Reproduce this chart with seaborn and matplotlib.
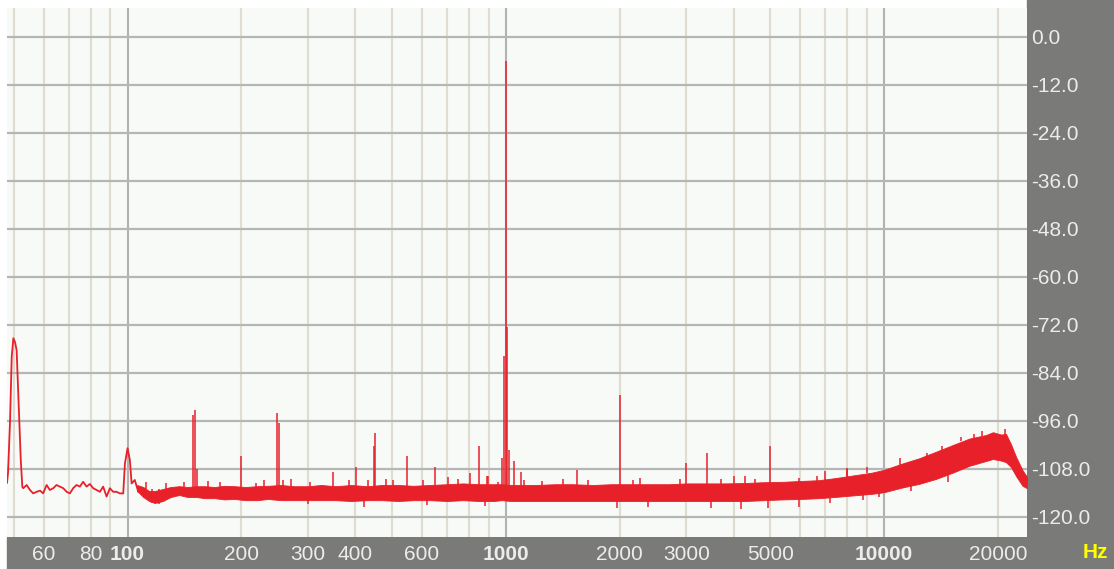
import numpy as np
import matplotlib
matplotlib.use("Agg")
import matplotlib.pyplot as plt
import seaborn as sns
from matplotlib.patches import Rectangle

# Spectrum (Hz, dB)

# thin trace at the low end (mains hum at 50 Hz, 100 Hz)
low_freq = [48.0, 48.3, 48.9, 49.4, 49.9, 50.4, 50.9, 51.4, 52.2, 52.7,
            53.0, 54.1, 55.2, 56.3, 57.5, 58.7, 59.8, 61.1, 62.3, 63.6,
            64.9, 66.2, 67.6, 69.0, 70.4, 71.8, 73.3, 74.8, 76.3, 77.9,
            79.5, 81.1, 82.8, 84.5, 86.2, 88.0, 89.8, 91.6, 93.5, 95.4,
            97.4, 98.4, 100.0, 101.4, 102.5, 104.5, 106.7]
low_db = [-111.5, -109, -96, -80, -75.3, -76.3, -78.3, -89, -105.8, -112.5,
          -112.8, -112, -113.25, -114.1, -113.7, -113.4, -114.1, -112, -113.25, -112.8,
          -112, -112.4, -112.8, -113.7, -114.1, -112.8, -112, -112.4, -111.2, -112.4,
          -111.75, -112.8, -113.25, -113.7, -112.4, -114.9, -112.8, -113.7, -113.7, -114.1,
          -114.1, -106.6, -102.8, -105.75, -111.6, -110.75, -113.7]

# dense noise floor: upper and lower edge of the red band
band_freq = [106, 110, 114, 118, 124, 130, 137, 144, 152, 160, 170, 180, 192, 205, 220, 235,
             255, 275, 300, 325, 355, 390, 430, 470, 520, 570, 630, 700, 770, 850, 930, 975,
             1030, 1100, 1200, 1350, 1500, 1700, 1900, 2100, 2400, 2700, 3000, 3400, 3800,
             4300, 4800, 5400, 6000, 6700,
             7400, 8300, 9300, 10000, 11200, 12400, 13700, 15200, 16800, 18600, 19400,
             20400, 21000, 21650, 22340, 23230, 23870]
band_hi = [-112, -112.5, -113.5, -113.5, -113, -112.5, -112.3, -112.5, -112.3, -112.3, -112.5, -112.2,
           -112.3, -112.5, -112.3, -112.2, -112, -112.3, -112.3, -112, -112.3, -112, -112.3,
           -112, -112, -112.2, -112, -111.8, -111.6, -111.8, -111.8, -111.8,
           -112, -112, -112, -111.8, -111.8, -112, -111.8, -111.8, -111.8, -111.8, -111.6,
           -111.6, -111.6, -111.5, -111.3, -111.2, -111, -110.8,
           -110.3, -109.6, -108.9, -108.2, -106.6, -105.3, -103.7, -102, -100.4, -99.5,
           -98.8, -99.4, -99.2, -101.8, -105, -108.3, -110]
band_lo = [-113.5, -115, -116, -116.5, -116, -115, -114.5, -115, -115, -115.3, -115.3, -115.6,
           -115.5, -115.8, -115.8, -115.5, -115.8, -115.8, -115.8, -115.8, -115.8, -116, -115.8, -115.8,
           -116, -115.8, -115.8, -116, -115.8, -116, -116, -115.8,
           -116, -116, -116, -116, -116, -116, -116, -116, -116, -116,
           -116, -116, -116, -116, -115.8, -115.6, -115.5, -115.3,
           -115, -114.6, -114.2, -113.8, -112.6, -111.7, -110.5, -108.9, -107.2, -106,
           -105.5, -105.9, -106.3, -107.5, -109.8, -112.2, -112.8]

# harmonics / spurs
spike_freq = [149, 151, 153, 200, 249, 251, 349, 401, 448, 452,
              549, 651, 802, 851, 893, 977, 986, 1000, 1009, 1018,
              1050, 1100, 1543, 2000, 2990, 3410, 4000, 4280, 5000, 7000, 8000]
spike_top = [-94.5, -93.25, -108, -104.75, -94.1, -96.6, -108.7, -107.6, -102.25, -99.1,
             -104.75, -107.6, -109, -102.2, -109.75, -105.25, -79.75, -6.0, -72.5, -103.25,
             -105.9, -108.7, -108.25, -89.5, -106.6, -104.1, -109.7, -109.7, -102.2, -108.5,
             -108.0]

# small noise ticks above the floor
tick_freq = [112, 126, 141, 163, 176, 219, 230, 258, 271, 303, 386, 432, 483, 502, 604,
             703, 749, 898, 953, 1120, 1250, 1420, 1650, 2169, 2258, 2890, 3700, 4550,
             5972, 6647, 8003, 9000, 11008, 13000, 14200, 16000, 17300, 18200, 20900]
tick_top = [-111.3, -111.5, -111.2, -111, -111.2, -111.6, -110.75, -110.75, -110.6, -111.2,
            -110.75, -110.75, -110.6, -110.75, -110.75, -110, -110.4, -109.75, -111.2, -110.8,
            -111, -110.6, -110.8, -110.75, -110.2, -110.5, -110.6, -110.4, -110.2, -109.8,
            -107.8, -107.6, -105.3, -103.9, -102.3, -100, -99.3, -98.6, -98]
tick_base = [-113, -113, -113, -113, -113, -113, -113, -113, -113, -113,
             -113, -113, -113, -113, -113, -113, -113, -113, -113, -113,
             -113, -113, -113, -113, -113, -113, -113, -113, -113, -113,
             -110, -109, -107, -105, -103.5, -101, -100.5, -99.8, -99.5]

# downward noise dips
dip_freq = [116, 121, 300, 423, 620, 880, 1963, 2376, 3493, 4190, 4926, 5972,
            7178, 8770, 9702, 11760, 14745]
dip_bottom = [-116.6, -116.8, -116.8, -117.6, -117, -117.2, -117.8, -117.5, -117.8, -118,
              -117.8, -117.6, -116.5, -115.75, -114.9, -113.6, -111.2]
dip_top = [-113, -113, -113, -113, -113, -113, -113, -113, -113, -113,
           -113, -113, -113, -114, -113.5, -112, -109.5]

xtick_vals = [60, 80, 100, 200, 300, 400, 600, 1000, 2000, 3000, 5000, 10000, 20000]
ytick_vals = [0, -12, -24, -36, -48, -60, -72, -84, -96, -108, -120]

minor_grid = [50, 60, 70, 80, 90, 200, 300, 400, 500, 600, 700, 800, 900,
              2000, 3000, 4000, 5000, 6000, 7000, 8000, 9000, 20000]
major_grid = [100, 1000, 10000]

RED = "#e8202a"
GRAY = "#7a7a78"
BG = "#f8faf7"
TXT = "#ececec"

sns.set_style("white")
plt.rcParams["font.family"] = ["Liberation Sans", "DejaVu Sans"]

W, H = 1114, 569
fig = plt.figure(figsize=(W / 100, H / 100), dpi=100, facecolor="white")
fig.patches.append(Rectangle((7 / W, 0), 1 - 7 / W, 32 / H, transform=fig.transFigure,
                             color=GRAY, zorder=-5))
fig.patches.append(Rectangle((1027 / W, 0), 87 / W, 1, transform=fig.transFigure,
                             color=GRAY, zorder=-5))

ax = fig.add_axes([7 / W, 32 / H, 1020 / W, 529 / H])
ax.set_facecolor(BG)
ax.set_xscale("log")
ax.set_xlim(48, 23870)
ax.set_ylim(-125, 7.25)

for f in minor_grid:
    ax.axvline(f, color="#e0ddd0", lw=1.5, zorder=0.5)
for f in major_grid:
    ax.axvline(f, color="#b2b2b2", lw=1.5, zorder=0.6)
for v in ytick_vals:
    ax.axhline(v, color="#b6b6b6", lw=1.6, zorder=0.7)

# data
ax.fill_between(band_freq, band_lo, band_hi, color=RED, lw=0.6, zorder=2)
sns.lineplot(x=low_freq, y=low_db, color=RED, lw=1.3, ax=ax,
             estimator=None, sort=False, zorder=3)
ax.vlines(spike_freq, -113, spike_top, color=RED, lw=1.1, zorder=3)
ax.vlines(tick_freq, tick_base, tick_top, color=RED, lw=1.1, zorder=3)
ax.vlines(dip_freq, dip_bottom, dip_top, color=RED, lw=1.1, zorder=3)

# axes text
ax.set_xticks(xtick_vals)
ax.set_xticklabels([str(v) for v in xtick_vals])
ax.xaxis.set_minor_locator(matplotlib.ticker.NullLocator())
ax.tick_params(axis="x", length=0, pad=6, labelcolor=TXT, labelsize=15)
for lbl in ax.get_xticklabels():
    if lbl.get_text() in ("100", "1000", "10000"):
        lbl.set_fontweight("bold")

ax.yaxis.tick_right()
ax.set_yticks(ytick_vals)
ax.set_yticklabels([f"{v:.1f}" for v in ytick_vals])
ax.tick_params(axis="y", length=0, pad=3, labelcolor=TXT, labelsize=15)

for s in ax.spines.values():
    s.set_visible(False)
ax.set_xlabel("")
ax.set_ylabel("")

fig.text(1083 / W, 16 / H, "Hz", color="#ffff00", fontweight="bold", fontsize=15,
         ha="left", va="center")

fig.savefig("out.png", dpi=100)
